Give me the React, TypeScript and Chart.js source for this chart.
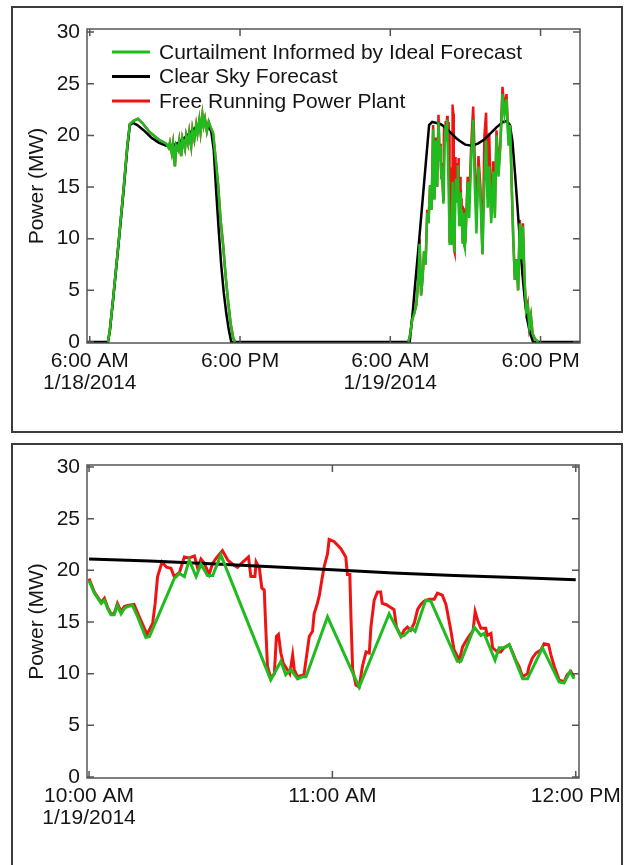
import React, { useEffect, useRef } from "react";
import { Chart, registerables } from "chart.js";

Chart.register(...registerables);

const FONT_FAMILY = '"Liberation Sans", Arial, Helvetica, sans-serif';
const TEXT_COLOR = "#151515";
const AXIS_COLOR = "#555555";
const GREEN = "#1fbb1f";
const RED = "#ee1414";
const BLACK = "#000000";

// ---------- Shared ----------
const yTickValues = [0, 5, 10, 15, 20, 25, 30];
const yTitle = "Power (MW)";
const seriesLabels = [
  "Curtailment Informed by Ideal Forecast",
  "Clear Sky Forecast",
  "Free Running Power Plant",
];

// ---------- Top chart (hours since 00:00 on 1/18/2014) ----------
const topTickHours = [6, 18, 30, 42];
const topTickLabels = [["6:00 AM", "1/18/2014"], ["6:00 PM"], ["6:00 AM", "1/19/2014"], ["6:00 PM"]];

// Clear sky forecast, up to the 10 AM window of 1/19
const clearHoursA = [5.78, 7.45, 7.6, 7.9, 8.3, 8.7, 9.0, 9.2, 9.45, 9.8, 10.3, 10.9, 11.5, 12.1, 12.6, 13.1, 13.7, 14.3, 14.8, 15.1, 15.4, 15.7, 15.9, 16.1, 16.3, 16.5, 16.7, 16.9, 17.1, 17.3, 31.55, 31.8, 32.0, 32.3, 32.6, 32.9, 33.1, 33.35, 33.7];
const clearPowerA = [0, 0, 1.0, 4.5, 9.5, 14.6, 18.8, 21.0, 21.2, 21.0, 20.5, 19.8, 19.3, 19.0, 19.0, 19.3, 19.9, 20.6, 21.1, 21.2, 21.0, 20.4, 18.6, 14.5, 10.8, 7.4, 4.8, 2.8, 1.2, 0, 0, 3.0, 5.8, 9.8, 14.0, 18.2, 21.0, 21.3, 21.2];
// Clear sky forecast, after the 10 AM - 12 PM window of 1/19
const clearHoursC = [36.5, 37.0, 37.5, 38.0, 38.5, 39.0, 39.3, 39.55, 39.75, 39.95, 40.15, 40.35, 40.55, 40.75, 40.95, 41.15, 41.4, 45.15];
const clearPowerC = [19.0, 19.2, 19.6, 20.2, 20.8, 21.3, 21.4, 21.0, 19.5, 16.5, 13.2, 9.8, 6.6, 4.0, 2.1, 0.9, 0, 0];

// 1/18: free running and curtailed output coincide
const day1Hours = [7.45, 7.6, 7.9, 8.3, 8.7, 9.0, 9.2, 9.5, 9.85, 10.2, 10.8, 11.5, 12.1, 12.3, 12.4, 12.55, 12.65, 12.8, 12.9, 13.05, 13.15, 13.3, 13.4, 13.6, 13.7, 13.85, 13.95, 14.1, 14.2, 14.35, 14.5, 14.6, 14.75, 14.85, 15.0, 15.1, 15.2, 15.35, 15.5, 15.65, 15.85, 16.05, 16.25, 16.45, 16.65, 16.85, 17.05, 17.25, 17.45, 17.6];
const day1Power = [0, 1.1, 4.6, 9.6, 14.8, 19.0, 21.1, 21.4, 21.6, 21.2, 20.3, 19.6, 19.2, 18.8, 19.3, 18.3, 19.2, 17.0, 19.0, 18.6, 19.5, 18.0, 19.7, 18.7, 20.0, 19.2, 20.3, 19.0, 20.6, 19.6, 21.0, 20.2, 21.5, 20.3, 22.0, 21.0, 21.6, 20.4, 21.3, 20.8, 20.2, 17.8, 15.2, 11.8, 9.4, 6.4, 3.9, 1.8, 0.4, 0];

// 1/19 morning (before 10 AM)
const day2MorningHours = [31.44, 31.6, 31.75, 31.92, 32.08, 32.24, 32.34, 32.46, 32.58, 32.7, 32.82, 32.95, 33.05, 33.18, 33.3, 33.42, 33.52, 33.63, 33.74, 33.85, 33.94];
const day2MorningGreen = [0, 0.8, 2.2, 2.8, 3.6, 6.0, 9.5, 4.5, 6.2, 8.8, 7.5, 12.5, 11.5, 15.2, 12.8, 20.6, 13.8, 19.5, 15.0, 21.3, 17.5];
const day2MorningRed = [0, 0.8, 2.2, 2.8, 3.6, 6.0, 10.0, 4.5, 6.2, 8.8, 7.5, 12.8, 11.5, 15.2, 12.8, 21.0, 13.8, 19.8, 15.0, 22.0, 18.0];

// 1/19 afternoon (after 12 PM)
const day2AfternoonHours = [36.05, 36.18, 36.3, 36.46, 36.62, 36.75, 36.88, 37.04, 37.2, 37.36, 37.52, 37.65, 37.78, 37.9, 38.06, 38.22, 38.35, 38.48, 38.64, 38.8, 38.96, 39.12, 39.28, 39.44, 39.57, 39.7, 39.82, 39.95, 40.08, 40.21, 40.34, 40.46, 40.59, 40.72, 40.85, 40.98, 41.1, 41.23, 41.36, 41.55, 41.84];
const day2AfternoonGreen = [11.5, 15.5, 12.0, 17.8, 21.5, 15.0, 10.5, 17.0, 14.0, 8.5, 15.5, 19.5, 13.0, 17.0, 11.5, 16.5, 12.0, 20.0, 16.0, 19.0, 24.0, 22.0, 23.5, 19.0, 21.0, 15.0, 10.0, 6.0, 8.0, 5.0, 11.5, 8.0, 11.2, 6.0, 3.0, 3.5, 1.5, 2.5, 0.8, 0.3, 0];
const day2AfternoonRed = [11.5, 16.0, 13.5, 19.0, 22.8, 17.5, 12.0, 18.0, 15.0, 8.5, 20.0, 22.2, 14.0, 20.2, 12.0, 17.5, 12.5, 20.5, 16.5, 19.5, 24.7, 22.5, 24.0, 19.5, 21.0, 15.0, 10.0, 6.0, 8.0, 5.0, 11.8, 8.0, 11.5, 6.0, 3.0, 3.7, 1.5, 2.5, 0.8, 0.3, 0];

// ---------- Bottom chart (minutes after 10:00 AM on 1/19/2014) ----------
const zoomTickMinutes = [0, 60, 120];
const zoomTickLabels = [["10:00 AM", "1/19/2014"], ["11:00 AM"], ["12:00 PM"]];

const zoomClearMinutes = [0, 15, 30, 45, 60, 75, 90, 105, 120];
const zoomClearPower = [21.1, 20.9, 20.65, 20.35, 20.05, 19.75, 19.5, 19.3, 19.1];

const zoomGreenMinutes = [0, 1.3, 3.0, 3.8, 4.6, 5.4, 6.2, 7.0, 7.9, 8.7, 9.5, 10.7, 12.0, 14.0, 14.9, 21.0, 22.3, 23.5, 24.7, 26.4, 27.6, 29.2, 30.5, 32.5, 44.8, 47.3, 48.5, 49.8, 51.4, 52.6, 53.5, 58.8, 66.6, 74.0, 76.9, 77.7, 79.5, 80.4, 83.0, 84.3, 90.8, 91.7, 95.0, 96.6, 97.4, 100.1, 101.1, 102.3, 103.6, 106.9, 108.1, 111.8, 115.9, 117.1, 118.6, 119.6];
const zoomGreenPower = [19.0, 17.8, 16.8, 17.1, 16.3, 15.7, 15.7, 16.6, 15.8, 16.3, 16.5, 16.6, 15.5, 13.5, 13.6, 19.2, 19.7, 19.4, 21.0, 19.4, 20.6, 19.5, 19.5, 21.5, 9.4, 11.2, 9.9, 10.4, 9.5, 9.7, 9.7, 15.5, 8.7, 15.8, 13.6, 13.7, 14.4, 14.1, 17.1, 17.0, 11.2, 11.2, 14.5, 13.7, 13.9, 11.3, 12.5, 12.5, 12.8, 9.5, 9.5, 12.5, 9.2, 9.1, 10.2, 9.5];

const zoomRedMinutes = [0, 1.3, 3.0, 3.8, 4.6, 5.4, 6.2, 7.0, 7.9, 8.7, 9.5, 11.1, 12.4, 14.3, 15.7, 16.3, 16.9, 18.0, 19.1, 20.2, 21.0, 22.3, 23.5, 24.7, 26.0, 26.8, 27.6, 28.4, 29.6, 30.5, 31.4, 32.9, 34.2, 35.4, 36.6, 37.9, 39.3, 39.9, 40.9, 41.2, 42.0, 42.6, 43.2, 43.6, 44.0, 44.8, 45.7, 46.2, 46.7, 47.3, 47.9, 48.7, 49.5, 50.2, 50.6, 51.4, 53.0, 54.3, 55.1, 55.5, 56.3, 56.8, 57.4, 58.0, 58.8, 59.2, 60.4, 62.1, 63.3, 63.7, 64.3, 64.6, 65.0, 65.8, 66.6, 67.4, 68.3, 69.1, 69.5, 70.3, 71.1, 71.9, 72.3, 73.2, 74.4, 75.2, 75.8, 76.9, 77.7, 78.5, 79.3, 80.2, 81.0, 81.8, 82.6, 83.9, 85.1, 85.9, 87.1, 88.0, 89.2, 90.0, 91.3, 92.1, 93.3, 94.7, 95.2, 95.8, 96.6, 97.8, 98.2, 99.1, 99.5, 100.7, 101.5, 102.3, 103.6, 104.4, 105.2, 106.0, 106.9, 108.1, 108.5, 109.3, 110.2, 111.4, 112.2, 113.3, 113.9, 114.7, 115.9, 117.1, 117.9, 118.8, 119.6];
const zoomRedPower = [19.2, 17.9, 16.9, 17.3, 16.4, 15.8, 15.8, 16.8, 16.0, 16.5, 16.6, 16.7, 15.5, 13.8, 14.9, 16.8, 19.4, 20.8, 20.3, 20.2, 19.4, 19.8, 21.3, 21.2, 21.4, 20.2, 21.1, 20.7, 19.6, 20.7, 21.2, 21.9, 21.0, 20.6, 20.3, 20.8, 21.3, 19.4, 19.4, 20.8, 20.2, 18.3, 18.1, 14.2, 10.7, 9.6, 10.0, 13.6, 13.8, 12.0, 11.0, 10.5, 10.0, 11.8, 10.4, 9.7, 9.9, 13.6, 14.1, 15.8, 16.8, 17.6, 19.1, 20.4, 21.6, 23.0, 22.8, 22.1, 21.3, 19.6, 19.6, 15.2, 10.4, 8.9, 8.7, 10.7, 12.1, 12.0, 14.5, 17.1, 17.9, 17.9, 16.8, 16.7, 16.4, 16.2, 14.5, 13.6, 14.2, 14.5, 14.2, 14.9, 16.2, 16.7, 17.0, 17.2, 17.2, 17.8, 17.6, 16.7, 14.2, 12.3, 11.3, 12.6, 13.4, 14.2, 16.0, 15.2, 14.4, 14.4, 13.7, 13.9, 12.5, 12.1, 12.1, 12.5, 12.8, 12.1, 11.3, 10.7, 9.7, 10.0, 10.7, 11.5, 12.0, 12.3, 12.9, 12.8, 11.8, 10.7, 9.4, 9.2, 9.9, 10.2, 9.7];

// ---------- helpers ----------
type XY = { x: number; y: number | null };
const toPoints = (xs: number[], ys: number[]): XY[] => xs.map((x, i) => ({ x, y: ys[i] }));
const minutesToHours = (m: number[]) => m.map((v) => 34 + v / 60); // 10:00 AM on 1/19
const GAP: XY = { x: 24, y: null };

const TICK_LEN = 7;
const FONT_SIZE = 21;

function makeExtrasPlugin(xTickValues: number[], showLegend: boolean) {
  return {
    id: "frameAndExtras",
    afterDatasetsDraw(chart: any) {
      const { ctx, chartArea } = chart;
      const { left, right, top, bottom } = chartArea;
      const xs = chart.scales.x;
      const ys = chart.scales.y;
      ctx.save();
      ctx.strokeStyle = AXIS_COLOR;
      ctx.lineWidth = 1.5;
      ctx.strokeRect(left, top, right - left, bottom - top);
      ctx.beginPath();
      for (const v of xTickValues) {
        const p = xs.getPixelForValue(v);
        ctx.moveTo(p, bottom);
        ctx.lineTo(p, bottom - TICK_LEN);
        ctx.moveTo(p, top);
        ctx.lineTo(p, top + TICK_LEN);
      }
      for (const v of yTickValues) {
        const p = ys.getPixelForValue(v);
        ctx.moveTo(left, p);
        ctx.lineTo(left + TICK_LEN, p);
        ctx.moveTo(right, p);
        ctx.lineTo(right - TICK_LEN, p);
      }
      ctx.stroke();

      // y-axis title
      ctx.fillStyle = TEXT_COLOR;
      ctx.font = `${FONT_SIZE}px ${FONT_FAMILY}`;
      ctx.textAlign = "center";
      ctx.textBaseline = "middle";
      ctx.save();
      ctx.translate(37, (top + bottom) / 2);
      ctx.rotate(-Math.PI / 2);
      ctx.fillText(yTitle, 0, 0);
      ctx.restore();

      if (showLegend) {
        const ds = chart.data.datasets;
        ctx.textAlign = "left";
        ctx.textBaseline = "middle";
        ds.forEach((d: any, i: number) => {
          const y = top + 23 + i * 24.5;
          ctx.strokeStyle = d.borderColor;
          ctx.lineWidth = 3;
          ctx.beginPath();
          ctx.moveTo(left + 25, y);
          ctx.lineTo(left + 63, y);
          ctx.stroke();
          ctx.fillStyle = TEXT_COLOR;
          ctx.fillText(d.label, left + 72, y + 1);
        });
      }
      ctx.restore();
    },
  };
}

function makeConfig(opts: {
  datasets: any[];
  xMin: number;
  xMax: number;
  yMin: number;
  yMax: number;
  xTicks: number[];
  xLabels: string[][];
  padding: { top: number; right: number; bottom: number; left: number };
  showLegend: boolean;
}): any {
  const tickFont = { family: FONT_FAMILY, size: FONT_SIZE, lineHeight: 1.05 };
  return {
    type: "line",
    data: { datasets: opts.datasets },
    options: {
      animation: false,
      responsive: false,
      devicePixelRatio: 1,
      parsing: true,
      layout: { padding: opts.padding },
      plugins: { legend: { display: false }, tooltip: { enabled: false } },
      elements: { point: { radius: 0 }, line: { tension: 0 } },
      scales: {
        x: {
          type: "linear",
          min: opts.xMin,
          max: opts.xMax,
          grid: { display: false, drawTicks: false },
          border: { display: false },
          afterBuildTicks: (s: any) => {
            s.ticks = opts.xTicks.map((v) => ({ value: v }));
          },
          afterFit: (s: any) => {
            s.height = 80;
          },
          ticks: {
            autoSkip: false,
            maxRotation: 0,
            minRotation: 0,
            padding: 7,
            color: TEXT_COLOR,
            font: tickFont,
            callback: (_v: any, i: number) => opts.xLabels[i],
          },
        },
        y: {
          type: "linear",
          min: opts.yMin,
          max: opts.yMax,
          grid: { display: false, drawTicks: false },
          border: { display: false },
          afterBuildTicks: (s: any) => {
            s.ticks = yTickValues.map((v) => ({ value: v }));
          },
          afterFit: (s: any) => {
            s.width = 87;
          },
          ticks: {
            padding: 7,
            color: TEXT_COLOR,
            font: tickFont,
            callback: (v: any) => String(v),
          },
        },
      },
    },
    plugins: [makeExtrasPlugin(opts.xTicks, opts.showLegend)],
  };
}

export default function App() {
  const topRef = useRef<HTMLCanvasElement | null>(null);
  const bottomRef = useRef<HTMLCanvasElement | null>(null);

  useEffect(() => {
    if (!topRef.current || !bottomRef.current) return;

    const topGreen = [
      ...toPoints(day1Hours, day1Power),
      GAP,
      ...toPoints(day2MorningHours, day2MorningGreen),
      ...toPoints(minutesToHours(zoomGreenMinutes), zoomGreenPower),
      ...toPoints(day2AfternoonHours, day2AfternoonGreen),
    ];
    const topRed = [
      ...toPoints(day1Hours, day1Power),
      GAP,
      ...toPoints(day2MorningHours, day2MorningRed),
      ...toPoints(minutesToHours(zoomRedMinutes), zoomRedPower),
      ...toPoints(day2AfternoonHours, day2AfternoonRed),
    ];
    const topClear = [
      ...toPoints(clearHoursA, clearPowerA),
      ...toPoints(minutesToHours(zoomClearMinutes), zoomClearPower),
      ...toPoints(clearHoursC, clearPowerC),
    ];

    const topChart = new Chart(
      topRef.current,
      makeConfig({
        datasets: [
          { label: seriesLabels[0], data: topGreen, borderColor: GREEN, backgroundColor: GREEN, borderWidth: 2.5, spanGaps: false },
          { label: seriesLabels[1], data: topClear, borderColor: BLACK, backgroundColor: BLACK, borderWidth: 2.5 },
          { label: seriesLabels[2], data: topRed, borderColor: RED, backgroundColor: RED, borderWidth: 2.5, spanGaps: false },
        ],
        xMin: 5.78,
        xMax: 45.15,
        yMin: -0.1,
        yMax: 30.3,
        xTicks: topTickHours,
        xLabels: topTickLabels,
        padding: { top: 29, right: 48, bottom: 9, left: 0 },
        showLegend: true,
      })
    );

    const bottomChart = new Chart(
      bottomRef.current,
      makeConfig({
        datasets: [
          { label: seriesLabels[0], data: toPoints(zoomGreenMinutes, zoomGreenPower), borderColor: GREEN, backgroundColor: GREEN, borderWidth: 3 },
          { label: seriesLabels[1], data: toPoints(zoomClearMinutes, zoomClearPower), borderColor: BLACK, backgroundColor: BLACK, borderWidth: 3 },
          { label: seriesLabels[2], data: toPoints(zoomRedMinutes, zoomRedPower), borderColor: RED, backgroundColor: RED, borderWidth: 3 },
        ],
        xMin: -0.5,
        xMax: 120.8,
        yMin: -0.1,
        yMax: 30.2,
        xTicks: zoomTickMinutes,
        xLabels: zoomTickLabels,
        padding: { top: 25, right: 48, bottom: 7, left: 0 },
        showLegend: false,
      })
    );

    return () => {
      topChart.destroy();
      bottomChart.destroy();
    };
  }, []);

  const boxStyle: React.CSSProperties = {
    position: "absolute",
    left: 11,
    width: 612,
    border: "2px solid #3c3c3c",
    boxSizing: "border-box",
  };

  return (
    <div style={{ position: "absolute", left: 0, top: 0, width: 628, height: 865, overflow: "hidden", background: "#ffffff" }}>
      <div style={{ ...boxStyle, top: 6, height: 427 }} />
      <div style={{ ...boxStyle, top: 443, height: 440 }} />
      <canvas ref={topRef} width={628} height={432} style={{ position: "absolute", left: 0, top: 0, display: "block" }} />
      <canvas ref={bottomRef} width={628} height={425} style={{ position: "absolute", left: 0, top: 440, display: "block" }} />
    </div>
  );
}
